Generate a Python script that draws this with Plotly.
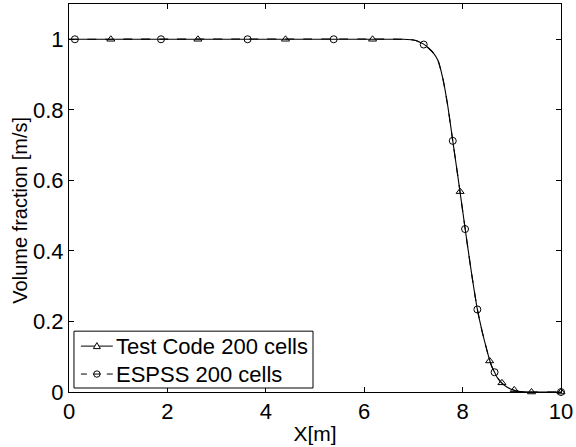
import plotly.graph_objects as go

# Profile curve
curve_x = [0.0, 6.8, 7.0, 7.1, 7.2, 7.3, 7.4, 7.5, 7.6, 7.7, 7.8, 7.9, 8.0, 8.1, 8.2, 8.3,
           8.4, 8.5, 8.55, 8.6, 8.65, 8.7, 8.8, 8.9, 9.0, 9.1, 9.2, 9.4, 10.0]
curve_y = [1.0, 1.0, 0.998, 0.994, 0.987, 0.976, 0.962, 0.94, 0.888, 0.81, 0.712, 0.615, 0.515,
           0.415, 0.32, 0.234, 0.17, 0.115, 0.09, 0.07, 0.056, 0.042, 0.025, 0.014, 0.007,
           0.003, 0.001, 0.0, 0.0]

# Marker positions
test_x = [0.85, 2.62, 4.4, 6.17, 7.95, 8.55, 8.8, 9.05, 9.4, 10.0]
test_y = [1.0, 1.0, 1.0, 1.0, 0.568, 0.088, 0.026, 0.006, 0.0, 0.0]
espss_x = [0.12, 1.87, 3.63, 5.38, 7.21, 7.8, 8.05, 8.3, 8.65, 10.0]
espss_y = [1.0, 1.0, 1.0, 1.0, 0.985, 0.712, 0.462, 0.234, 0.056, 0.0]

names = ["Test Code 200 cells", "ESPSS 200 cells"]
x_ticks = [0, 2, 4, 6, 8, 10]
y_ticks = [0, 0.2, 0.4, 0.6, 0.8, 1]
y_tick_labels = ["0", "0.2", "0.4", "0.6", "0.8", "1"]
x_title = "X[m]"
y_title = "Volume fraction [m/s]"

FONT = "Liberation Sans, Arial, Helvetica, sans-serif"
FS = 22

W, H = 576, 447
ML, MR, MT, MB = 69, 13, 3, 55
PW, PH = W - ML - MR, H - MT - MB


def px(xp):
    return (xp - ML) / PW


def py(yp):
    return (H - MB - yp) / PH


fig = go.Figure()
# curves
fig.add_trace(go.Scatter(x=curve_x, y=curve_y, mode="lines", showlegend=False, name=names[0],
                         line=dict(color="black", width=1.1, shape="spline", smoothing=0.5)))
fig.add_trace(go.Scatter(x=curve_x, y=curve_y, mode="lines", showlegend=False, name=names[1],
                         line=dict(color="black", width=1.1, dash="dash", shape="spline", smoothing=0.5)))
# markers
fig.add_trace(go.Scatter(x=test_x, y=test_y, mode="markers", showlegend=False, cliponaxis=False,
                         name=names[0],
                         marker=dict(symbol="triangle-up-open", size=7, color="black",
                                     line=dict(width=1, color="black"))))
fig.add_trace(go.Scatter(x=espss_x, y=espss_y, mode="markers", showlegend=False, cliponaxis=False,
                         name=names[1],
                         marker=dict(symbol="circle-open", size=7, color="black",
                                     line=dict(width=1, color="black"))))

axis_common = dict(showline=True, linecolor="black", linewidth=1, mirror="ticks",
                   ticks="inside", ticklen=5, tickcolor="black", showgrid=False,
                   zeroline=False, tickfont=dict(family=FONT, size=FS, color="black"))

fig.update_xaxes(range=[0, 10], tickvals=x_ticks, ticktext=[str(v) for v in x_ticks],
                 title=dict(text=x_title, font=dict(family=FONT, size=21, color="black"), standoff=2),
                 **axis_common)
fig.update_yaxes(range=[0, 1.1], tickvals=y_ticks, ticktext=y_tick_labels, **axis_common)

# ---- hand-built legend (box, samples, labels) ----
shapes = []
annotations = []
shapes.append(dict(type="rect", xref="paper", yref="paper",
                   x0=px(74), x1=px(314), y0=py(388), y1=py(331),
                   line=dict(color="black", width=1), fillcolor="white", layer="above"))
rows = [346, 374]
# row 1: solid line + triangle
shapes.append(dict(type="line", xref="paper", yref="paper",
                   x0=px(81), x1=px(113), y0=py(rows[0]), y1=py(rows[0]),
                   line=dict(color="black", width=1)))
shapes.append(dict(type="path", xref="paper", yref="paper",
                   xsizemode="pixel", ysizemode="pixel", xanchor=px(97), yanchor=py(rows[0]),
                   path="M -3.5,-2.5 L 3.5,-2.5 L 0,3.5 Z",
                   line=dict(color="black", width=1), fillcolor="white"))
# row 2: dashed line + circle
for a, b in [(81, 87), (107, 113)]:
    shapes.append(dict(type="line", xref="paper", yref="paper",
                       x0=px(a), x1=px(b), y0=py(rows[1]), y1=py(rows[1]),
                       line=dict(color="black", width=1)))
shapes.append(dict(type="line", xref="paper", yref="paper",
                   x0=px(93), x1=px(101), y0=py(rows[1]), y1=py(rows[1]),
                   line=dict(color="black", width=1)))
shapes.append(dict(type="circle", xref="paper", yref="paper",
                   xsizemode="pixel", ysizemode="pixel", xanchor=px(97), yanchor=py(rows[1]),
                   x0=-3.2, x1=3.2, y0=-3.2, y1=3.2,
                   line=dict(color="black", width=1), fillcolor="rgba(0,0,0,0)"))
for name, r in zip(names, rows):
    annotations.append(dict(text=name, xref="paper", yref="paper", x=px(114), y=py(r),
                            xanchor="left", yanchor="middle", showarrow=False,
                            font=dict(family=FONT, size=22, color="black")))
# y-axis title
annotations.append(dict(text=y_title, xref="paper", yref="paper", x=px(20), y=py(210),
                        xanchor="center", yanchor="middle", showarrow=False, textangle=-90,
                        font=dict(family=FONT, size=20, color="black")))

fig.update_layout(
    width=W, height=H,
    margin=dict(l=ML, r=MR, t=MT, b=MB),
    paper_bgcolor="white", plot_bgcolor="white",
    font=dict(family=FONT, size=FS, color="black"),
    showlegend=False,
    shapes=shapes,
    annotations=annotations,
)

fig.write_html("out.html", config={"displayModeBar": False},
               post_script="document.body.style.margin='0';document.body.style.padding='0';document.body.style.overflow='hidden';")
